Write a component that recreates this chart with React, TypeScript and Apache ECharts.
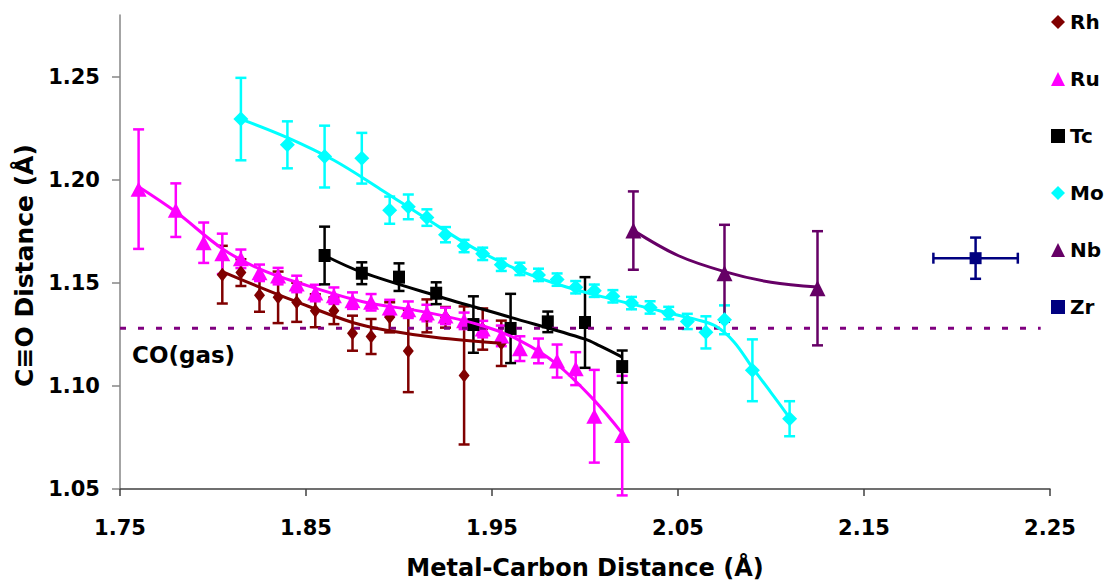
import React, { useEffect, useRef } from "react";
import * as echarts from "echarts";

// ---------- data ----------
const xTicks = [1.75, 1.85, 1.95, 2.05, 2.15, 2.25];
const yTicks = [1.05, 1.1, 1.15, 1.2, 1.25];
const coGas = 1.128;
const coLineX = [1.75, 2.245];

const rhX = [1.805, 1.815, 1.825, 1.835, 1.845, 1.855, 1.865, 1.875, 1.885, 1.895, 1.905, 1.915, 1.925, 1.935, 1.945, 1.955];
const rhY = [1.154, 1.155, 1.144, 1.143, 1.1406, 1.1365, 1.1365, 1.1256, 1.124, 1.1333, 1.117, 1.134, 1.1333, 1.1051, 1.1276, 1.1207];
const rhErr = [0.014, 0.0065, 0.008, 0.0125, 0.0095, 0.008, 0.0065, 0.0085, 0.0085, 0.0073, 0.02, 0.008, 0.005, 0.0335, 0.01, 0.011];
const rhTrendX = [1.805, 1.825, 1.842, 1.875, 1.895, 1.92, 1.955];
const rhTrendY = [1.1555, 1.148, 1.1419, 1.1308, 1.1268, 1.1235, 1.1207];

const ruX = [1.76, 1.78, 1.795, 1.805, 1.815, 1.825, 1.835, 1.845, 1.855, 1.865, 1.875, 1.885, 1.895, 1.905, 1.915, 1.925, 1.935, 1.945, 1.955, 1.965, 1.975, 1.985, 1.995, 2.005, 2.02];
const ruY = [1.1955, 1.1853, 1.1695, 1.1641, 1.1617, 1.1549, 1.1533, 1.1495, 1.1451, 1.1438, 1.1414, 1.1406, 1.1378, 1.137, 1.1354, 1.134, 1.1316, 1.1276, 1.1243, 1.1181, 1.117, 1.1121, 1.1084, 1.0853, 1.0759];
const ruErr = [0.029, 0.013, 0.0098, 0.0098, 0.0045, 0.004, 0.004, 0.004, 0.004, 0.004, 0.004, 0.004, 0.004, 0.004, 0.004, 0.004, 0.004, 0.004, 0.005, 0.006, 0.006, 0.008, 0.008, 0.0225, 0.029];
const ruTrendX = [1.76, 1.78, 1.805, 1.825, 1.845, 1.88, 1.915, 1.945, 1.965, 1.985, 2.005, 2.02];
const ruTrendY = [1.1967, 1.1845, 1.1666, 1.1568, 1.1503, 1.141, 1.1357, 1.1292, 1.122, 1.1105, 1.093, 1.077];

const tcX = [1.86, 1.88, 1.9, 1.92, 1.94, 1.96, 1.98, 2.0, 2.02];
const tcY = [1.1633, 1.1547, 1.1528, 1.145, 1.1298, 1.1279, 1.1311, 1.1308, 1.1094];
const tcErr = [0.014, 0.0053, 0.0067, 0.0053, 0.0137, 0.0168, 0.005, 0.022, 0.0078];
const tcTrendX = [1.86, 1.88, 1.92, 1.96, 2.0, 2.008, 2.02];
const tcTrendY = [1.1633, 1.1552, 1.1438, 1.1333, 1.1227, 1.1194, 1.114];

const moX = [1.815, 1.84, 1.86, 1.88, 1.895, 1.905, 1.915, 1.925, 1.935, 1.945, 1.955, 1.965, 1.975, 1.985, 1.995, 2.005, 2.015, 2.025, 2.035, 2.045, 2.055, 2.065, 2.075, 2.09, 2.11];
const moY = [1.2295, 1.217, 1.2113, 1.2105, 1.1853, 1.1869, 1.1817, 1.1734, 1.1679, 1.1641, 1.1588, 1.1568, 1.1539, 1.1516, 1.1479, 1.1462, 1.1435, 1.1402, 1.1381, 1.1354, 1.1313, 1.126, 1.1321, 1.1076, 1.0841];
const moErr = [0.02, 0.0114, 0.015, 0.0123, 0.0066, 0.006, 0.004, 0.0037, 0.003, 0.003, 0.003, 0.003, 0.003, 0.003, 0.003, 0.003, 0.003, 0.003, 0.003, 0.003, 0.0037, 0.0078, 0.007, 0.015, 0.0085];
const moTrendX = [1.815, 1.84, 1.865, 1.89, 1.915, 1.94, 1.965, 1.99, 2.015, 2.04, 2.06, 2.07, 2.08, 2.09, 2.1, 2.11];
const moTrendY = [1.2295, 1.2205, 1.2095, 1.1955, 1.181, 1.167, 1.156, 1.148, 1.142, 1.1365, 1.1322, 1.1292, 1.1215, 1.1089, 1.0968, 1.0845];

const nbX = [2.026, 2.075, 2.125];
const nbY = [1.1754, 1.1547, 1.1474];
const nbErr = [0.019, 0.0235, 0.0277];
const nbTrendX = [2.026, 2.05, 2.075, 2.1, 2.125];
const nbTrendY = [1.1755, 1.1633, 1.1555, 1.1503, 1.148];

const zrX = [2.21];
const zrY = [1.162];
const zrErr = [0.01];
const zrXErr = [0.0227];

const legendNames = ["Rh", "Ru", "Tc", "Mo", "Nb", "Zr"];
const colors: Record<string, string> = {
  Rh: "#800000",
  Ru: "#FF00FF",
  Tc: "#000000",
  Mo: "#00FFFF",
  Nb: "#660066",
  Zr: "#000080",
};

const FONT = "DejaVu Sans";

function pairs(xs: number[], ys: number[]) {
  return xs.map((x, i) => [x, ys[i]]);
}
function triples(xs: number[], ys: number[], es: number[], xe?: number[]) {
  return xs.map((x, i) => (xe ? [x, ys[i], es[i], xe[i]] : [x, ys[i], es[i], 0]));
}

function errorSeries(name: string, data: number[][]) {
  const color = colors[name];
  return {
    type: "custom",
    name: name + " error",
    data,
    encode: { x: 0, y: 1 },
    silent: true,
    renderItem: (_params: any, api: any) => {
      const x = api.value(0);
      const y = api.value(1);
      const e = api.value(2);
      const ex = api.value(3);
      const top = api.coord([x, y + e]);
      const bot = api.coord([x, y - e]);
      const cap = 5.5;
      const style = { stroke: color, lineWidth: 2.5 };
      const children: any[] = [
        { type: "line", shape: { x1: top[0], y1: top[1], x2: bot[0], y2: bot[1] }, style },
        { type: "line", shape: { x1: top[0] - cap, y1: top[1], x2: top[0] + cap, y2: top[1] }, style },
        { type: "line", shape: { x1: bot[0] - cap, y1: bot[1], x2: bot[0] + cap, y2: bot[1] }, style },
      ];
      if (ex > 0) {
        const l = api.coord([x - ex, y]);
        const r = api.coord([x + ex, y]);
        children.push(
          { type: "line", shape: { x1: l[0], y1: l[1], x2: r[0], y2: r[1] }, style },
          { type: "line", shape: { x1: l[0], y1: l[1] - cap, x2: l[0], y2: l[1] + cap }, style },
          { type: "line", shape: { x1: r[0], y1: r[1] - cap, x2: r[0], y2: r[1] + cap }, style }
        );
      }
      return { type: "group", children };
    },
  };
}

function trendSeries(name: string, xs: number[], ys: number[]) {
  return {
    type: "line",
    name: name + " trend",
    data: pairs(xs, ys),
    smooth: 0.35,
    symbol: "none",
    silent: true,
    lineStyle: { color: colors[name], width: 3 },
    itemStyle: { color: colors[name] },
  };
}

function pointSeries(name: string, xs: number[], ys: number[], symbol: string, size: number | number[]) {
  return {
    type: "scatter",
    name,
    data: pairs(xs, ys),
    symbol,
    symbolSize: size,
    itemStyle: { color: colors[name], opacity: 1 },
  };
}

export default function App() {
  const ref = useRef<HTMLDivElement>(null);

  useEffect(() => {
    if (!ref.current) return;
    const chart = echarts.init(ref.current, undefined, { renderer: "svg" });
    const option: any = {
      animation: false,
      backgroundColor: "#ffffff",
      grid: { left: 120, right: 56, top: 15, bottom: 96, containLabel: false },
      legend: {
        data: legendNames.map((n) => ({ name: n })),
        orient: "vertical",
        left: 1046,
        top: 7,
        itemWidth: 14,
        itemHeight: 14,
        itemGap: 37,
        selectedMode: false,
        textStyle: { fontFamily: FONT, fontWeight: "bold", fontSize: 20, color: "#000", lineHeight: 20 },
      },
      xAxis: {
        type: "value",
        min: 1.75,
        max: 2.25,
        interval: 0.1,
        name: "Metal-Carbon Distance (Å)",
        nameLocation: "middle",
        nameGap: 67,
        nameTextStyle: { fontFamily: FONT, fontWeight: "bold", fontSize: 24, color: "#000" },
        splitLine: { show: false },
        axisLine: { lineStyle: { color: "#404040", width: 1.5 } },
        axisTick: { show: true, length: 7, inside: false, lineStyle: { color: "#404040", width: 1.5 }, customValues: xTicks },
        axisLabel: {
          customValues: xTicks,
          margin: 28,
          fontFamily: FONT,
          fontWeight: "bold",
          fontSize: 21,
          color: "#000",
          formatter: (v: number) => v.toFixed(2),
        },
      },
      yAxis: {
        type: "value",
        min: 1.05,
        max: 1.28,
        interval: 0.05,
        name: "C≡O Distance (Å)",
        nameLocation: "middle",
        nameGap: 80,
        nameRotate: 90,
        nameTextStyle: { fontFamily: FONT, fontWeight: "bold", fontSize: 25, color: "#000", padding: [0, 27, 0, 0] },
        splitLine: { show: false },
        axisLine: { show: true, lineStyle: { color: "#868686", width: 1.5 } },
        axisTick: { show: true, length: 8, inside: false, lineStyle: { color: "#868686", width: 1.5 }, customValues: yTicks },
        axisLabel: {
          customValues: yTicks,
          margin: 20,
          fontFamily: FONT,
          fontWeight: "bold",
          fontSize: 21,
          color: "#000",
          formatter: (v: number) => v.toFixed(2),
        },
      },
      graphic: [
        {
          type: "text",
          left: 132,
          top: 343,
          style: { text: "CO(gas)", fontFamily: FONT, fontWeight: "bold", fontSize: 23, fill: "#000" },
        },
      ],
      series: [
        {
          type: "line",
          name: "CO(gas)",
          data: coLineX.map((x) => [x, coGas]),
          symbol: "none",
          silent: true,
          lineStyle: { color: "#800080", width: 3, type: [6, 12] },
        },
        errorSeries("Rh", triples(rhX, rhY, rhErr)),
        trendSeries("Rh", rhTrendX, rhTrendY),
        pointSeries("Rh", rhX, rhY, "diamond", [11, 14]),
        errorSeries("Ru", triples(ruX, ruY, ruErr)),
        trendSeries("Ru", ruTrendX, ruTrendY),
        pointSeries("Ru", ruX, ruY, "triangle", [16, 15]),
        errorSeries("Tc", triples(tcX, tcY, tcErr)),
        trendSeries("Tc", tcTrendX, tcTrendY),
        pointSeries("Tc", tcX, tcY, "rect", [12, 13]),
        errorSeries("Mo", triples(moX, moY, moErr)),
        trendSeries("Mo", moTrendX, moTrendY),
        pointSeries("Mo", moX, moY, "diamond", [15, 15]),
        errorSeries("Nb", triples(nbX, nbY, nbErr)),
        trendSeries("Nb", nbTrendX, nbTrendY),
        pointSeries("Nb", nbX, nbY, "triangle", [16, 16]),
        errorSeries("Zr", triples(zrX, zrY, zrErr, zrXErr)),
        pointSeries("Zr", zrX, zrY, "rect", [12, 12]),
      ],
    };
    chart.setOption(option);
    return () => chart.dispose();
  }, []);

  return (
    <div
      ref={ref}
      style={{ position: "fixed", left: 0, top: 0, width: 1106, height: 585, background: "#fff" }}
    />
  );
}
